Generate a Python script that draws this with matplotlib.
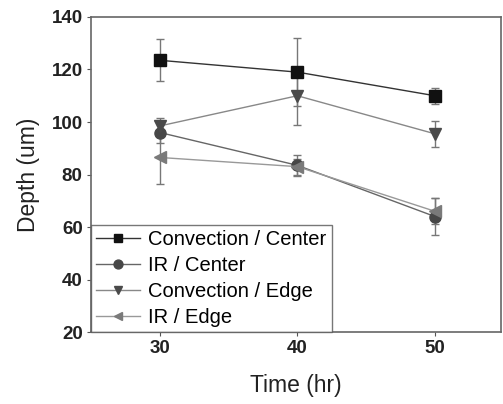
import matplotlib
matplotlib.use("Agg")
import matplotlib.pyplot as plt

plt.rcParams["font.family"] = ["Liberation Sans", "DejaVu Sans"]

time_hr = [30, 40, 50]

conv_center = [123.5, 119.0, 110.0]
conv_center_err = [8.0, 13.0, 3.0]
ir_center = [96.0, 83.5, 64.0]
ir_center_err = [4.0, 4.0, 7.0]
conv_edge = [98.5, 110.0, 95.5]
conv_edge_err = [3.0, 11.0, 5.0]
ir_edge = [86.5, 83.0, 66.0]
ir_edge_err = [10.0, 3.0, 5.0]

SERIES = [
    ("Convection / Center", conv_center, conv_center_err, "s", "#111111", "#333333"),
    ("IR / Center", ir_center, ir_center_err, "o", "#474747", "#666666"),
    ("Convection / Edge", conv_edge, conv_edge_err, "v", "#4a4a4a", "#888888"),
    ("IR / Edge", ir_edge, ir_edge_err, "<", "#7a7a7a", "#999999"),
]

fig = plt.figure(figsize=(5.03, 4.04), dpi=100)
ax = fig.add_axes([0.181, 0.178, 0.815, 0.780])

handles = []
for label, vals, errs, marker, mcolor, lcolor in SERIES:
    cont = ax.errorbar(time_hr, vals, yerr=errs, marker=marker, markersize=8,
                       color=lcolor, mfc=mcolor, mec=mcolor, ecolor="#777777",
                       elinewidth=1, capsize=3, capthick=1, linewidth=1.0, label=label)
    handles.append(cont.lines[0])

ax.set_xlim(25, 54.8)
ax.set_ylim(20, 140)
ax.set_xticks([30, 40, 50])
ax.set_yticks([20, 40, 60, 80, 100, 120, 140])
ax.tick_params(labelsize=13.5, direction="out", length=3, color="#555555", pad=3)
for lbl in ax.get_xticklabels() + ax.get_yticklabels():
    lbl.set_fontweight("bold")
    lbl.set_color("#222222")
for sp in ax.spines.values():
    sp.set_color("#666666")
    sp.set_linewidth(1.2)

ax.set_xlabel("Time (hr)", fontsize=16.5, color="#222222", labelpad=12)
ax.set_ylabel("Depth (um)", fontsize=16.5, color="#222222", labelpad=8)

leg = ax.legend(handles, [s[0] for s in SERIES], loc="lower left", fontsize=14.5,
                frameon=True, fancybox=False, borderaxespad=0.0, labelspacing=0.35,
                handlelength=2.2, handletextpad=0.4, borderpad=0.25, markerscale=0.8)
leg.get_frame().set_edgecolor("#555555")
leg.get_frame().set_linewidth(1.0)

fig.savefig("out.png", dpi=100)
